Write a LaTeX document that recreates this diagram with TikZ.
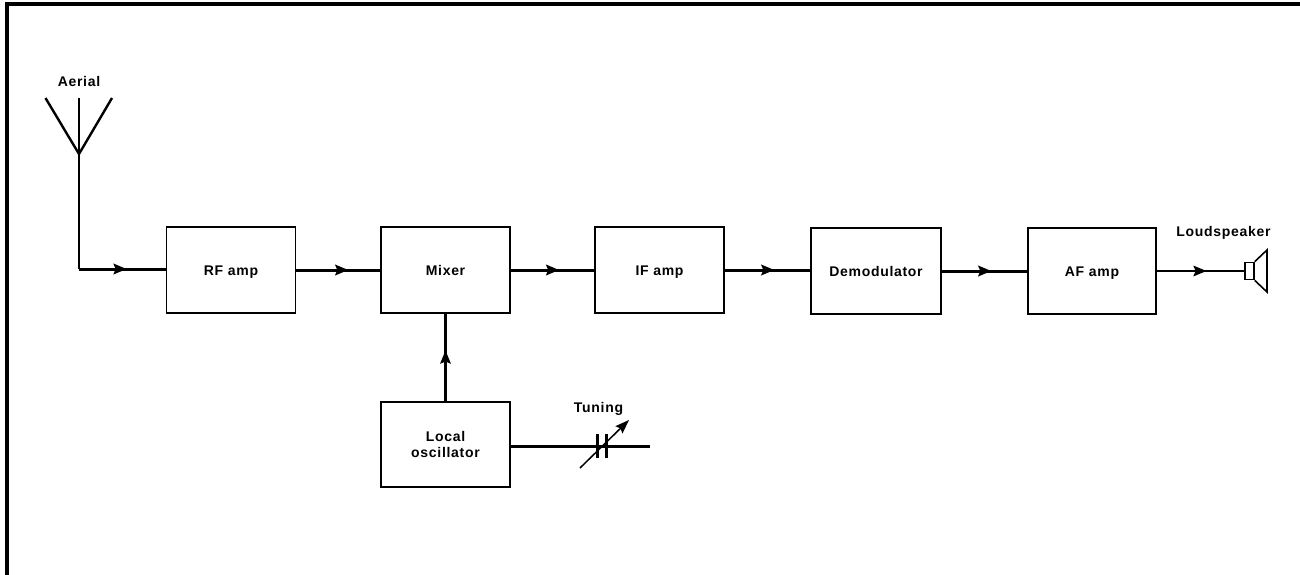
\documentclass[tikz,border=0pt]{standalone}
\usepackage{fontspec}
\setmainfont{Liberation Sans}
\newfontfamily\lblfont[LetterSpace=5,BoldFont={Liberation Sans Bold}]{Liberation Sans}
\usetikzlibrary{arrows.meta,decorations.markings}
\tikzset{
 x=1pt,y=-1pt,
 blockbox/.style={draw=black,line width=1.7pt,minimum width=129pt,minimum height=86pt,inner sep=0pt,align=center,font=\fontsize{14}{16}\lblfont\bfseries},
 oneline/.style={blockbox,text height=10pt,text depth=0pt},
 lbl/.style={inner sep=0pt,font=\fontsize{14}{16}\lblfont\bfseries},
 wire/.style={line width=3pt,draw=black},
 midarrow/.style={wire,postaction={decorate},decoration={markings,mark=at position #1 with {\arrow{Stealth[length=13pt,width=10.5pt,inset=2pt]}}}},
}
\begin{document}
\begin{tikzpicture}
\useasboundingbox (0,0) rectangle (1300,575);
\fill[white] (0,0) rectangle (1300,575);
\draw[line width=4pt] (7,575) -- (7,4.5) -- (1300,4.5);
\node[oneline] (rf) at (231,270) {RF amp};
\node[oneline] (mix) at (445.5,270) {Mixer};
\node[oneline] (ifa) at (659.5,270) {IF amp};
\node[oneline,minimum width=130pt] (dem) at (876,271) {Demodulator};
\node[oneline,minimum width=128pt] (af) at (1092,271) {AF amp};
\node[blockbox,minimum height=85pt] (lo) at (445.5,444.5) {Local\\oscillator};
\node[lbl] (aerlab) at (79,81) {Aerial};
\node[lbl] (spklab) at (1223.5,233) {Loudspeaker};
\node[lbl] (tunlab) at (598.5,409) {Tuning};
\coordinate (ant) at (79,154);
\coordinate (antl) at (45.5,98);
\coordinate (antc) at (79,98);
\coordinate (antr) at (112,98);
\coordinate (corner) at (79,269);
\draw[line width=2.4pt,line join=miter] (antl) -- (ant) -- (antr);
\draw[line width=2pt] (antc) -- (ant);
\draw[line width=2pt] (ant) -- (corner);
\draw[midarrow=0.55] (corner) -- (corner -| rf.west);
\draw[midarrow=0.62] (rf.east) -- (mix.west);
\draw[midarrow=0.58] (mix.east) -- (ifa.west);
\draw[midarrow=0.58] (ifa.east) -- (ifa.east -| dem.west);
\draw[midarrow=0.58] (dem.east) -- (af.west);
\coordinate (spkin) at (1244,271);
\draw[midarrow=0.57,line width=2.2pt] (af.east) -- (spkin);
\node[draw=black,line width=1.7pt,minimum width=9pt,minimum height=17pt,inner sep=0pt,anchor=west] (spk) at (spkin) {};
\draw[line width=1.6pt,line join=miter] (spk.north east) -- (1267,250) -- (1267,292) -- (spk.south east);
\draw[midarrow=0.58,line width=2.2pt] (lo.north) -- (mix.south);
\coordinate (tuneend) at (650,446);
\draw[wire] (tuneend -| lo.east) -- (tuneend);
\coordinate (p1t) at (597,434); \coordinate (p1b) at (597,458);
\coordinate (p2t) at (606,434); \coordinate (p2b) at (606,458);
\draw[line width=3pt] (p1t) -- (p1b);
\draw[line width=3pt] (p2t) -- (p2b);
\coordinate (tunfrom) at (580,468);
\coordinate (tunto) at (629,420);
\draw[line width=1.5pt,-{Stealth[length=14pt,width=10pt,inset=2pt]}] (tunfrom) -- (tunto);
\end{tikzpicture}
\end{document}
